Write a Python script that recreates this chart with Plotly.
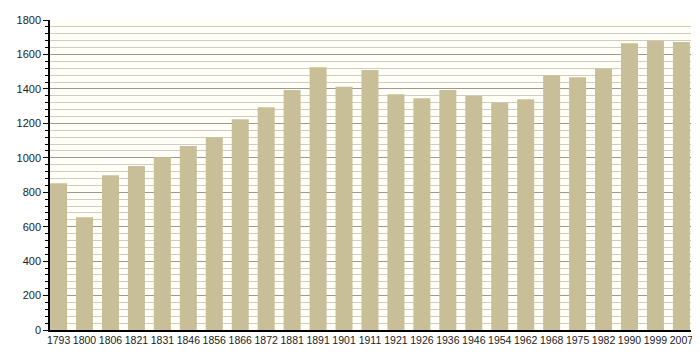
import plotly.graph_objects as go

years = ["1793", "1800", "1806", "1821", "1831", "1846", "1856", "1866", "1872", "1881",
         "1891", "1901", "1911", "1921", "1926", "1936", "1946", "1954", "1962", "1968",
         "1975", "1982", "1990", "1999", "2007"]
population = [852, 654, 898, 952, 1003, 1068, 1119, 1223, 1293, 1394,
              1525, 1413, 1510, 1369, 1346, 1394, 1359, 1320, 1340, 1479,
              1467, 1518, 1665, 1680, 1672]
y_ticks = [0, 200, 400, 600, 800, 1000, 1200, 1400, 1600, 1800]

fig = go.Figure(go.Bar(
    x=list(range(len(years))), y=population,
    marker=dict(color="#c8bf98", line=dict(width=0)),
    width=0.655,
))

# page body has an 8px margin, so the figure is sized/offset to compensate
fig.update_layout(
    width=692, height=352,
    margin=dict(l=42, r=9, t=12, b=30),
    paper_bgcolor="white", plot_bgcolor="#fffff6",
    font=dict(family="Liberation Sans, Arial, sans-serif", size=11, color="#222"),
    showlegend=False,
)
fig.update_xaxes(
    range=[-0.33, 24.37],
    tickmode="array", tickvals=list(range(len(years))), ticktext=years,
    tickangle=0, tickfont=dict(size=10.5), automargin=False,
    showgrid=False, showline=True, linecolor="black", linewidth=1.5,
    ticks="", zeroline=False, fixedrange=True,
)
fig.update_yaxes(
    range=[0, 1800], automargin=False,
    tickmode="array", tickvals=y_ticks,
    showgrid=True, gridcolor="#999999", gridwidth=1,
    showline=True, linecolor="black", linewidth=1.5,
    ticks="outside", ticklen=5, tickcolor="black",
    minor=dict(dtick=40, showgrid=True, gridcolor="#cccccc", gridwidth=1,
               ticks="outside", ticklen=3, tickcolor="black"),
    zeroline=False, layer="below traces",
)
fig.write_html("out.html")
